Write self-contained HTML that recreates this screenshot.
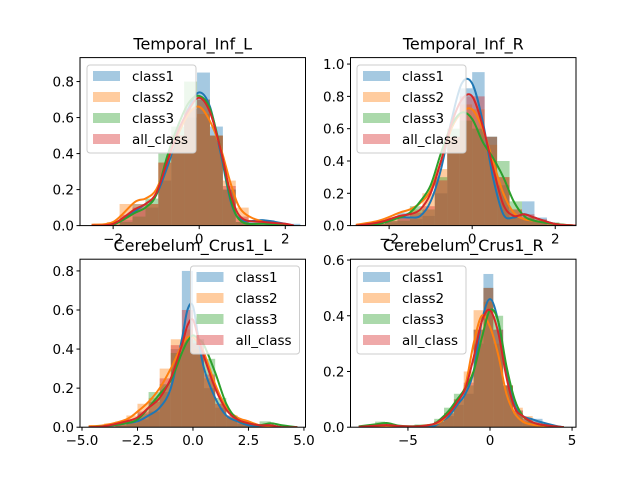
<!DOCTYPE html>
<html><head><meta charset="utf-8"><style>
body{margin:0;background:#fff}
svg text{font-family:"DejaVu Sans","Liberation Sans",sans-serif}
</style></head><body>
<svg id="fig" width="640" height="480" viewBox="0 0 640 480">
<rect width="640" height="480" fill="#fff"/>
</svg>
<script>
const classNames = ["class1","class2","class3","all_class"];
const colors = ["#1f77b4","#ff7f0e","#2ca02c","#d62728"];

// Panel 1: Temporal_Inf_L
const p1Title = "Temporal_Inf_L";
const p1XTicks = [-2,0,2];
const p1YTicks = [0.0,0.2,0.4,0.6,0.8];
const p1BinStart = -2.45, p1BinWidth = 0.3;
const p1Hist1 = [0,0,0.03,0.12,0.1,0.25,0.45,0.6,0.85,0.55,0.2,0.02,0.03,0.03,0.01,0.01];
const p1Hist2 = [0.01,0.02,0.12,0.12,0.12,0.35,0.5,0.65,0.62,0.5,0.25,0.1,0,0,0,0];
const p1Hist3 = [0,0,0.02,0.05,0.15,0.4,0.55,0.8,0.7,0.5,0.2,0.02,0,0,0,0];
const p1Hist4 = [0,0.01,0.06,0.1,0.12,0.35,0.5,0.65,0.7,0.5,0.22,0.05,0.01,0.01,0,0];
const p1KdeX = [-2.5,-2,-1.5,-1.25,-1,-0.75,-0.5,-0.25,0,0.25,0.5,0.75,1,1.5,2,2.2];
const p1Kde1 = [0,0.005,0.08,0.12,0.17,0.32,0.5,0.65,0.74,0.66,0.4,0.12,0.03,0.03,0.01,0];
const p1Kde2 = [0.005,0.02,0.13,0.15,0.2,0.35,0.5,0.62,0.66,0.58,0.43,0.22,0.08,0.02,0.005,0];
const p1Kde3 = [0,0.005,0.07,0.1,0.17,0.38,0.55,0.68,0.72,0.65,0.42,0.13,0.02,0.01,0,0];
const p1Kde4 = [0,0.01,0.09,0.12,0.18,0.35,0.52,0.64,0.71,0.63,0.42,0.16,0.04,0.02,0.01,0];

// Panel 2: Temporal_Inf_R
const p2Title = "Temporal_Inf_R";
const p2XTicks = [-2,0,2];
const p2YTicks = [0.0,0.2,0.4,0.6,0.8,1.0];
const p2BinStart = -2.7, p2BinWidth = 0.3;
const p2Hist1 = [0,0.01,0.02,0.08,0.04,0.06,0.2,0.5,0.85,0.95,0.55,0.25,0.05,0.15,0.05,0,0];
const p2Hist2 = [0.01,0.02,0.05,0.06,0.1,0.2,0.35,0.55,0.75,0.72,0.5,0.3,0.1,0.05,0.03,0.01,0];
const p2Hist3 = [0,0.01,0.03,0.03,0.12,0.1,0.3,0.6,0.65,0.6,0.55,0.4,0.15,0.05,0.03,0.02,0];
const p2Hist4 = [0,0.01,0.03,0.05,0.08,0.12,0.28,0.55,0.8,0.8,0.55,0.3,0.1,0.07,0.04,0.01,0];
const p2KdeX = [-2.8,-2.25,-1.75,-1.5,-1.25,-1,-0.75,-0.5,-0.25,0,0.25,0.5,0.75,1,1.25,1.5,2,2.5];
const p2Kde1 = [0,0.02,0.05,0.05,0.06,0.15,0.35,0.65,0.88,0.88,0.65,0.3,0.07,0.05,0.07,0.05,0.01,0];
const p2Kde2 = [0.005,0.03,0.08,0.1,0.14,0.22,0.4,0.6,0.7,0.72,0.6,0.4,0.2,0.08,0.04,0.03,0.01,0];
const p2Kde3 = [0,0.01,0.05,0.08,0.15,0.25,0.45,0.62,0.7,0.66,0.52,0.42,0.3,0.15,0.06,0.03,0.01,0];
const p2Kde4 = [0,0.02,0.06,0.07,0.1,0.2,0.4,0.63,0.78,0.8,0.62,0.36,0.13,0.06,0.07,0.05,0.01,0];

// Panel 3: Cerebelum_Crus1_L
const p3Title = "Cerebelum_Crus1_L";
const p3XTicks = [-5,-2.5,0,2.5,5];
const p3XTickLabels = ["−5.0","−2.5","0.0","2.5","5.0"];
const p3YTicks = [0.0,0.2,0.4,0.6,0.8];
const p3BinStart = -4.5, p3BinWidth = 0.5;
const p3Hist1 = [0,0,0.01,0.02,0.04,0.08,0.18,0.4,0.8,0.45,0.2,0.1,0.05,0.02,0,0,0,0];
const p3Hist2 = [0.01,0.02,0.03,0.06,0.12,0.15,0.3,0.45,0.5,0.4,0.25,0.12,0.06,0.03,0.01,0,0,0];
const p3Hist3 = [0,0,0.01,0.03,0.07,0.18,0.22,0.38,0.45,0.45,0.35,0.15,0.05,0.02,0.01,0.03,0,0];
const p3Hist4 = [0,0.01,0.02,0.04,0.08,0.13,0.25,0.42,0.6,0.43,0.27,0.12,0.06,0.03,0.01,0.01,0,0];
const p3KdeX = [-4.7,-4,-3,-2.5,-2,-1.5,-1,-0.5,-0.25,0,0.25,0.5,1,1.5,2,2.5,3,3.5,4,4.7];
const p3Kde1 = [0,0.003,0.02,0.03,0.06,0.1,0.2,0.45,0.6,0.62,0.45,0.3,0.15,0.06,0.03,0.01,0.005,0.003,0,0];
const p3Kde2 = [0.005,0.01,0.04,0.08,0.13,0.2,0.3,0.42,0.46,0.46,0.43,0.38,0.22,0.1,0.05,0.03,0.01,0.005,0,0];
const p3Kde3 = [0,0.005,0.02,0.04,0.1,0.17,0.24,0.38,0.44,0.47,0.45,0.42,0.28,0.12,0.04,0.02,0.01,0.02,0.01,0];
const p3Kde4 = [0,0.005,0.03,0.05,0.1,0.15,0.25,0.42,0.52,0.55,0.45,0.36,0.2,0.09,0.04,0.02,0.01,0.01,0,0];

// Panel 4: Cerebelum_Crus1_R
const p4Title = "Cerebelum_Crus1_R";
const p4XTicks = [-5,0,5];
const p4YTicks = [0.0,0.2,0.4,0.6];
const p4BinStart = -7, p4BinWidth = 0.6;
const p4Hist1 = [0,0,0,0,0,0,0.02,0.04,0.08,0.12,0.3,0.55,0.35,0.15,0.06,0.03,0.03,0.01,0];
const p4Hist2 = [0,0,0,0,0,0.01,0.02,0.05,0.1,0.2,0.42,0.45,0.3,0.15,0.07,0.04,0.01,0,0];
const p4Hist3 = [0.02,0,0,0,0.01,0.01,0.03,0.07,0.12,0.15,0.35,0.5,0.4,0.15,0.05,0.02,0.01,0,0];
const p4Hist4 = [0.005,0,0,0,0,0.01,0.02,0.05,0.1,0.16,0.35,0.5,0.35,0.15,0.06,0.03,0.02,0.005,0];
const p4KdeX = [-8,-7,-6.3,-5.5,-4.5,-3.5,-3,-2.5,-2,-1.5,-1,-0.5,0,0.5,1,1.5,2,2.5,3,4,4.5];
const p4Kde1 = [0,0.005,0.005,0.003,0.002,0.003,0.02,0.04,0.08,0.12,0.2,0.38,0.46,0.38,0.2,0.08,0.04,0.03,0.02,0.005,0];
const p4Kde2 = [0,0.003,0.005,0.003,0.003,0.01,0.02,0.05,0.09,0.15,0.3,0.4,0.36,0.26,0.12,0.05,0.02,0.01,0.005,0,0];
const p4Kde3 = [0.003,0.01,0.015,0.005,0.004,0.01,0.03,0.06,0.1,0.14,0.2,0.32,0.42,0.38,0.22,0.1,0.04,0.02,0.01,0.003,0];
const p4Kde4 = [0.001,0.005,0.008,0.004,0.003,0.01,0.025,0.05,0.09,0.14,0.25,0.38,0.42,0.34,0.18,0.07,0.04,0.02,0.01,0.003,0];

const NS = "http://www.w3.org/2000/svg";
const svg = document.getElementById("fig");
function mk(tag, attrs, parent){
  const e = document.createElementNS(NS, tag);
  for (const k in attrs) e.setAttribute(k, attrs[k]);
  (parent||svg).appendChild(e);
  return e;
}
function fmt(v){ const s = v.toFixed(1); return v < 0 ? "−" + s.slice(1) : s; }

function panel(cfg){
  const L = cfg.left, T = cfg.top, W = 225.5, H = 168;
  const sx = v => L + (v - cfg.xmin) / (cfg.xmax - cfg.xmin) * W;
  const sy = v => T + H - (v - cfg.ymin) / (cfg.ymax - cfg.ymin) * H;
  const g = mk("g", {});
  
  
  const clipId = cfg.name + "-clip";
  const cp = mk("clipPath", {id: clipId}, g);
  mk("rect", {x: L, y: T, width: W, height: H}, cp);
  const plot = mk("g", {"clip-path": "url(#" + clipId + ")"}, g);
  cfg.hists.forEach((arr, ci) => {
    arr.forEach((v, i) => {
      if (v <= 0) return;
      const x0 = sx(cfg.binStart + i * cfg.binWidth), x1 = sx(cfg.binStart + (i + 1) * cfg.binWidth);
      const r = mk("rect", {x: x0, y: sy(v), width: x1 - x0, height: sy(0) - sy(v), fill: colors[ci], "fill-opacity": 0.4}, plot);
      
      
    });
  });
  cfg.kdes.forEach((arr, ci) => {
    const pts = arr.map((v, i) => [sx(cfg.kdeX[i]), sy(v)]);
    let d = "M" + pts[0][0] + "," + pts[0][1];
    for (let i = 0; i < pts.length - 1; i++) {
      const p0 = pts[Math.max(0, i - 1)], p1 = pts[i], p2 = pts[i + 1], p3 = pts[Math.min(pts.length - 1, i + 2)];
      const c1 = [p1[0] + (p2[0] - p0[0]) / 6, p1[1] + (p2[1] - p0[1]) / 6];
      const c2 = [p2[0] - (p3[0] - p1[0]) / 6, p2[1] - (p3[1] - p1[1]) / 6];
      d += " C" + c1[0] + "," + c1[1] + " " + c2[0] + "," + c2[1] + " " + p2[0] + "," + p2[1];
    }
    const p = mk("path", {d: d, fill: "none", stroke: colors[ci], "stroke-width": 2}, plot);
    
    
  });
  const fr = mk("rect", {x: L, y: T, width: W, height: H, fill: "none", stroke: "#000", "stroke-width": 1}, g);
  
  
  cfg.xTicks.forEach((t, i) => {
    const x = sx(t);
    mk("line", {x1: x, x2: x, y1: T + H, y2: T + H + 3.5, stroke: "#000"}, g);
    const tx = mk("text", {x: x, y: T + H + 18, "font-size": 13.5, "text-anchor": "middle", fill: "#000"}, g);
    tx.textContent = cfg.xLabels ? cfg.xLabels[i] : (t < 0 ? "−" + (-t) : String(t));
    
    
  });
  cfg.yTicks.forEach(t => {
    const y = sy(t);
    mk("line", {x1: L - 3.5, x2: L, y1: y, y2: y, stroke: "#000"}, g);
    const tx = mk("text", {x: L - 6, y: y + 5, "font-size": 13.5, "text-anchor": "end", fill: "#000"}, g);
    tx.textContent = fmt(t);
    
    
  });
  const ti = mk("text", {x: L + W / 2, y: T - 8, "font-size": 16, "text-anchor": "middle", fill: "#000"}, g);
  ti.textContent = cfg.title;
  
  
  const lx = cfg.legX, ly = cfg.legY;
  const lg = mk("g", {}, g);
  
  
  mk("rect", {x: lx, y: ly, width: 109, height: 88, rx: 3, fill: "#fff", "fill-opacity": 0.8, stroke: "#ccc", "stroke-width": 1}, lg);
  classNames.forEach((n, ci) => {
    const cy = ly + 11 + ci * 21;
    const pr = mk("rect", {x: lx + 6, y: cy - 5, width: 27, height: 10, fill: colors[ci], "fill-opacity": 0.4}, lg);
    
    
    const lt = mk("text", {x: lx + 45, y: cy + 5, "font-size": 13.5, fill: "#000"}, lg);
    lt.textContent = n;
    
    
  });
}

panel({name: "panel-temporal-inf-l", title: p1Title, left: 80, top: 57.6, xmin: -2.77, xmax: 2.47, ymin: 0, ymax: 0.933,
  xTicks: p1XTicks, yTicks: p1YTicks, binStart: p1BinStart, binWidth: p1BinWidth,
  hists: [p1Hist1, p1Hist2, p1Hist3, p1Hist4], kdeX: p1KdeX, kdes: [p1Kde1, p1Kde2, p1Kde3, p1Kde4], legX: 87, legY: 65});
panel({name: "panel-temporal-inf-r", title: p2Title, left: 350.5, top: 57.6, xmin: -2.93, xmax: 2.5, ymin: 0, ymax: 1.04,
  xTicks: p2XTicks, yTicks: p2YTicks, binStart: p2BinStart, binWidth: p2BinWidth,
  hists: [p2Hist1, p2Hist2, p2Hist3, p2Hist4], kdeX: p2KdeX, kdes: [p2Kde1, p2Kde2, p2Kde3, p2Kde4], legX: 357, legY: 65});
panel({name: "panel-cerebelum-crus1-l", title: p3Title, left: 80, top: 259.2, xmin: -5.09, xmax: 5.07, ymin: 0, ymax: 0.86,
  xTicks: p3XTicks, xLabels: p3XTickLabels, yTicks: p3YTicks, binStart: p3BinStart, binWidth: p3BinWidth,
  hists: [p3Hist1, p3Hist2, p3Hist3, p3Hist4], kdeX: p3KdeX, kdes: [p3Kde1, p3Kde2, p3Kde3, p3Kde4], legX: 190.5, legY: 266});
panel({name: "panel-cerebelum-crus1-r", title: p4Title, left: 350.5, top: 259.2, xmin: -8.5, xmax: 5.24, ymin: 0, ymax: 0.603,
  xTicks: p4XTicks, yTicks: p4YTicks, binStart: p4BinStart, binWidth: p4BinWidth,
  hists: [p4Hist1, p4Hist2, p4Hist3, p4Hist4], kdeX: p4KdeX, kdes: [p4Kde1, p4Kde2, p4Kde3, p4Kde4], legX: 357, legY: 266});
</script>
</body></html>
